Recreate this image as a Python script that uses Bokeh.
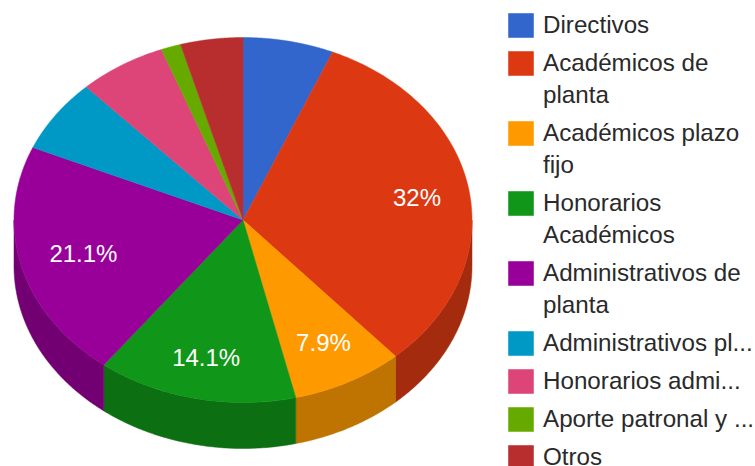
import numpy as np
from bokeh.core.properties import value
from bokeh.embed import file_html
from bokeh.models import ColumnDataSource, Range1d
from bokeh.plotting import figure
from bokeh.resources import INLINE

categories = ["Directivos", "Académicos de planta", "Académicos plazo fijo",
              "Honorarios Académicos", "Administrativos de planta",
              "Administrativos plazo fijo", "Honorarios administrativos",
              "Aporte patronal y otros", "Otros"]
shares = [6.4, 32.0, 7.9, 14.1, 21.1, 6.5, 6.2, 1.4, 4.4]
slice_labels = ["", "32%", "7.9%", "14.1%", "21.1%", "", "", "", ""]
colors = ["#3366cc", "#dc3912", "#ff9900", "#109618", "#990099",
          "#0099c6", "#dd4477", "#66aa00", "#b82e2e"]
side_colors = ["#264d99", "#a52b0e", "#bf7300", "#0c7012", "#730073",
               "#007395", "#a63359", "#4d8000", "#8a2222"]
legend_lines = [["Directivos"], ["Académicos de", "planta"], ["Académicos plazo", "fijo"],
                ["Honorarios", "Académicos"], ["Administrativos de", "planta"],
                ["Administrativos pl..."], ["Honorarios admi..."],
                ["Aporte patronal y ..."], ["Otros"]]

# layout, in page pixels
W, H = 755, 466
OX, OY = 0, 0
CX, CY, RX, RY, DEPTH = 242.5, 219.5, 229, 182.5, 46
SWATCH_TOPS = [13, 51, 121, 191, 261, 331, 369, 407, 445]
BASELINES = [24, 62, 132, 202, 272, 342, 380, 418, 456]
LINE_STEP = 32
LABEL_RADIUS = [0, .77, .76, .77, .72, 0, 0, 0, 0]

p = figure(width=W, height=H, output_backend="svg", toolbar_location=None,
           x_range=Range1d((OX - CX) / RX, (OX + W - CX) / RX),
           y_range=Range1d((CY - OY - H) / RY, (CY - OY) / RY),
           x_axis_location=None, y_axis_location=None, min_border=0,
           outline_line_color=None, background_fill_color="white",
           border_fill_color="white")
p.grid.visible = False
p.extra_x_ranges["px"] = Range1d(OX, OX + W)
p.extra_y_ranges["px"] = Range1d(OY + H, OY)

total = sum(shares)
edges = np.concatenate([[0], np.cumsum(shares)]) / total * 360.0
depth = DEPTH / RY

# side walls: only the near half of the rim shows
wx, wy, wc = [], [], []
for a, b, c in zip(edges[:-1], edges[1:], side_colors):
    lo, hi = max(a, 90.0), min(b, 270.0)
    if hi <= lo:
        continue
    t = np.radians(np.linspace(lo, hi, 80))
    wx.append(np.concatenate([np.sin(t), np.sin(t[::-1])]))
    wy.append(np.concatenate([np.cos(t), np.cos(t[::-1]) - depth]))
    wc.append(c)
p.patches(wx, wy, fill_color=wc, line_color=wc, line_width=0.5)

# top face
tx, ty = [], []
for a, b in zip(edges[:-1], edges[1:]):
    t = np.radians(np.linspace(a, b, 120))
    tx.append(np.concatenate([[0], np.sin(t)]))
    ty.append(np.concatenate([[0], np.cos(t)]))
p.patches(tx, ty, fill_color=colors, line_color=colors, line_width=0.5)

# slice labels
lx, ly, lt = [], [], []
for a, b, s, r in zip(edges[:-1], edges[1:], slice_labels, LABEL_RADIUS):
    if s:
        m = np.radians((a + b) / 2)
        lx.append(r * np.sin(m))
        ly.append(r * np.cos(m))
        lt.append(s)
p.text(x=lx, y=ly, text=lt, text_color="white", text_align="center",
       text_baseline="middle", text_font=value("Liberation Sans"),
       text_font_size="24px")

# legend
swatch = ColumnDataSource(dict(
    left=[508] * len(colors), right=[533] * len(colors),
    top=SWATCH_TOPS, bottom=[t + 24 for t in SWATCH_TOPS], color=colors))
p.quad(left="left", right="right", top="top", bottom="bottom", source=swatch,
       fill_color="color", line_color="color", line_alpha=0.55, line_width=1,
       x_range_name="px", y_range_name="px")

tx2, ty2, tt = [], [], []
for base, lines in zip(BASELINES, legend_lines):
    for i, line in enumerate(lines):
        tx2.append(542.5)
        ty2.append(base + i * LINE_STEP)
        tt.append(line)
p.text(x=tx2, y=ty2, text=tt, text_color="#2a2a2a", text_align="left",
       text_baseline="alphabetic", text_font=value("Liberation Sans"),
       text_font_size="24.2px", x_range_name="px", y_range_name="px")

open("out.html", "w").write(file_html(p, INLINE))
